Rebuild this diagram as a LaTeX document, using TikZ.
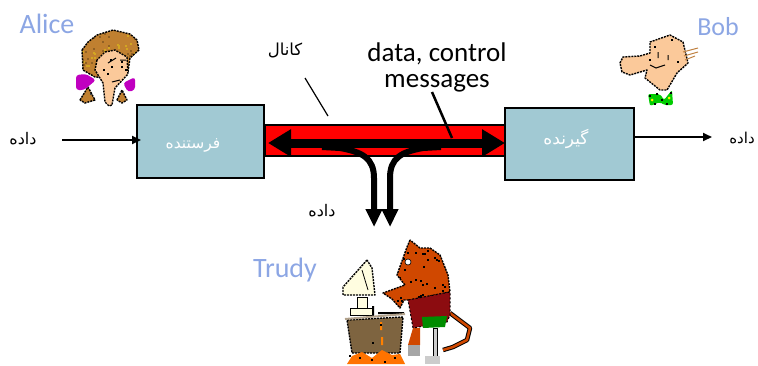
\documentclass[tikz,border=0pt]{standalone}
\usepackage{fontspec}
\usetikzlibrary{arrows.meta,calc}
\TeXXeTstate=1
\newfontfamily\fa[Script=Arabic]{DejaVu Sans}
\setmainfont{Carlito}
\definecolor{boxfill}{HTML}{A1C9D3}
\definecolor{namecol}{HTML}{8CA6E4}
\definecolor{peach}{HTML}{FBC99A}
\definecolor{hairbrown}{HTML}{C08030}
\definecolor{bowpurple}{HTML}{C000C0}
\definecolor{devil}{HTML}{D04800}
\definecolor{shirt}{HTML}{8C0C10}
\definecolor{deskbrown}{HTML}{7E6440}
\definecolor{cream}{HTML}{FFFDE0}
\tikzset{
  pc/.style={x=1pt,y=-1pt},
  endpoint/.style={draw=black,line width=2pt,fill=boxfill,minimum width=#1,inner sep=0pt},
  boxlabel/.style={text=white,inner sep=0pt,font=\fa\fontsize{#1}{#1}\selectfont},
  farsi/.style={text=black,inner sep=0pt,font=\fa\fontsize{#1}{#1}\selectfont},
  person/.style={text=namecol,inner sep=0pt,font=\fontsize{#1}{#1}\selectfont},
  msg/.style={text=black,inner sep=0pt,align=center,font=\fontsize{27}{26}\selectfont},
  feed/.style={line width=2pt,-{Triangle[length=9pt,width=8pt]}},
  tapline/.style={line width=6pt,-{Triangle[length=18pt,width=16pt]}},
  speck/.style={draw=black,dash pattern=on 2pt off 1pt,line width=1.4pt,line join=round},
}
% random little squares, kept inside the current clip
\newcommand{\mottle}[6]{\foreach \k in {1,...,#2}{%
  \pgfmathsetmacro{\rx}{#3+rnd*(#4-#3)}\pgfmathsetmacro{\ry}{#5+rnd*(#6-#5)}%
  \fill[#1] (\rx-1,\ry-1) rectangle (\rx+1,\ry+1);}}
\newcommand{\specks}[1]{\foreach \px/\py in {#1}{\fill[black] (\px-1,\py-1) rectangle (\px+1,\py+1);}}
\begin{document}
\begin{tikzpicture}[pc]
\pgfmathsetseed{1234}
\useasboundingbox (0,0) rectangle (758,365);
% channel
\node[draw=black,line width=2pt,fill=red,minimum width=241pt,minimum height=31pt,inner sep=0pt] (chan) at (385,140) {};
% end boxes
\node[endpoint=127pt,minimum height=73pt] (send) at (200.5,141.5) {};
\node[endpoint=129pt,minimum height=72pt] (recv) at (569.5,144) {};
\node[boxlabel=15.5] (sendt) at (193,145) {\beginR فرستنده\endR};
\node[boxlabel=17] (recvt) at (566,139) {\beginR گیرنده\endR};
% labels
\node[person=28] (alice) at (47,24) {Alice};
\node[person=26] (bob) at (718,27) {Bob};
\node[person=28] (trudy) at (285,270) {Trudy};
\node[farsi=16] (din) at (23,139) {\beginR داده\endR};
\node[farsi=15] (dout) at (742,138) {\beginR داده\endR};
\node[farsi=16] (dtap) at (322,211) {\beginR داده\endR};
\node[farsi=16.5] (kanal) at (285,50) {\beginR کانال\endR};
\node[msg] (msgs) at (437,67) {data, control\\messages};
% coordinates
\coordinate (inS) at (62,140);
\coordinate (inE) at (send.west |- inS);
\coordinate (outS) at (recv.east |- 0,137);
\coordinate (outE) at (712,137);
\coordinate (arL) at (268,143);
\coordinate (arR) at (505,143);
\coordinate (tapLs) at (322,147);
\coordinate (tapRs) at (441,147);
\coordinate (tipL) at (374,227);
\coordinate (tipR) at (390,227);
\coordinate (kanA) at (305,78);
\coordinate (kanB) at (328,116);
\coordinate (msgA) at (432,92);
\coordinate (msgB) at (452,138);
% connectors
\draw[feed] (inS) -- ($(inE)+(5,0)$);
\draw[feed] (outS) -- (outE);
\draw[line width=1.2pt] (kanA) -- (kanB);
\draw[line width=2.5pt] (msgA) -- (msgB);
\draw[line width=9pt,{Triangle[length=23pt,width=26pt]}-{Triangle[length=23pt,width=26pt]}] (arL) -- (arR);
\draw[tapline] (tapLs) -- (340,148) .. controls (362,152) and (374,158) .. (374,178) -- (tipL);
\draw[tapline] (tapRs) -- (423,148) .. controls (401,152) and (390,158) .. (390,178) -- (tipR);
% Alice
\foreach \shp in {0,1}{
 \begin{scope}
 \ifnum\shp=0 \clip (80,100)--(88,87)--(95,100)--(85,103)--cycle;\else \clip (117,100)--(122,90)--(127,100)--(122,103)--cycle;\fi
 \fill[hairbrown] (76,85) rectangle (130,105);
 \mottle{black!70}{14}{76}{130}{85}{105}
 \end{scope}}
\draw[speck] (80,100)--(88,87)--(95,100)--(85,103)--cycle;
\draw[speck] (117,100)--(122,90)--(127,100)--(122,103)--cycle;
\begin{scope}
\clip (82,50)--(88,42)--(97,35)--(113,30)--(130,34)--(137,40)--(139,50)--(130,58)--(128,72)--(112,78)--(95,77)--(83,70)--cycle;
\fill[hairbrown] (80,28) rectangle (140,80);
\mottle{hairbrown!70!yellow}{50}{80}{140}{28}{80}
\mottle{hairbrown!75!black}{40}{80}{140}{28}{80}
\end{scope}
\draw[speck] (82,50)--(88,42)--(97,35)--(113,30)--(130,34)--(137,40)--(139,50)--(130,58)--(128,72)--(112,78)--(95,77)--(83,70)--cycle;
\fill[peach,speck] (97,60)--(95,70)--(103,83)--(105,102)--(109,106)--(112,105)--(115,88)--(128,74)--(127,57)--(115,50)--(105,52)--cycle;
\fill[bowpurple,rounded corners=3pt] (76,75)--(86,74)--(96,80)--(84,90)--(76,90)--cycle;
\fill[bowpurple,rounded corners=3pt] (123,83)--(135,77)--(135,90)--(128,92)--cycle;
\draw[line width=1pt] (108,63)--(116,58) (120,60)--(126,60) (112,82)--(120,80);
\specks{104/70,108/74,112/67,122/67,126/70,111/60,122/62}
% Bob
\fill[peach,speck] (620,63)--(623,57)--(640,56)--(650,53)--(650,42)--(670,35)--(683,42)--(688,63)--(677,73)--(667,90)--(660,90)--(645,78)--(647,70)--(630,75)--(622,72)--cycle;
\fill[green!80!black,rounded corners=2pt] (648,94)--(660,94)--(664,100)--(672,90)--(673,105)--(664,105)--(660,102)--(650,106)--cycle;
\specks{650/96,655/104,662/100,671/93,667/104,657/94}
\fill[yellow] (652,100) circle (1.5) (669,98) circle (1.5);
\draw[brown,line width=1pt] (683,52)--(698,48) (684,56)--(698,52) (685,60)--(695,56);
\draw[line width=1pt] (650,65)--(656,68)--(665,65) (658,52)--(658,58) (668,55)--(668,60);
\specks{655/47,672/40,678/62,650/60}
% Trudy: computer
\fill[cream,speck] (367,260)--(343,287)--(343,295)--(375,295)--(372,268)--cycle;
\draw[line width=.8pt] (362,270)--(368,290);
\fill[cream,draw=black,line width=.6pt] (357,297) rectangle (367,308);
\fill[cream,draw=black,line width=.6pt] (350,308) rectangle (372,315);
\fill[black] (372,306) rectangle (374,316) (378,312) rectangle (404,314);
\fill[deskbrown,speck] (347,320)--(403,317)--(400,353)--(352,353)--cycle;
\draw[line width=2pt,color=deskbrown!60!white] (345,319)--(405,314);
\fill[orange!90!red] (347,364)--(352,356)--(362,352)--(372,358)--(382,350)--(392,355)--(400,354)--(405,364)--cycle;
\fill[orange] (381,337) rectangle (383,345) (380,322) rectangle (382,330);
\specks{373/343,381/325,350/356,360/358,395/358,372/360,385/362}
% Trudy: devil
\draw[black,line width=4.5pt,line join=round] (450,313)--(470,328)--(467,340)--(453,347)--(443,350);
\draw[devil,line width=2.5pt,line join=round] (450,313)--(470,328)--(467,340)--(453,347)--(443,350);
\fill[devil] (413,328)--(420,328)--(420,345)--(408,345)--cycle;
\fill[gray!70] (408,345) rectangle (420,356);
\fill[gray!40,draw=black,line width=1pt] (433,328) rectangle (437,358);
\fill[gray!40] (425,356) rectangle (440,364);
\begin{scope}
\clip (410,240)--(407,247)--(397,275)--(405,285)--(383,293)--(392,299)--(400,308)--(404,300)--(410,300)--(450,292)--(448,275)--(440,255)--(430,248)--(420,248)--cycle;
\fill[devil] (380,238) rectangle (452,310);
\mottle{black}{55}{380}{452}{238}{310}
\end{scope}
\draw[speck] (410,240)--(407,247)--(397,275)--(405,285)--(383,293)--(392,299)--(400,308)--(404,300)--(410,300)--(450,292)--(448,275)--(440,255)--(430,248)--(420,248)--cycle;
\fill[shirt,draw=black,dash pattern=on 2pt off 2pt,line width=1pt] (408,300)--(450,292)--(450,315)--(447,322)--(413,328)--cycle;
\fill[green!55!black] (422,317)--(447,316)--(445,327)--(423,328)--cycle;
\fill[white,draw=black,line width=.6pt] (408,262) circle (3);
\end{tikzpicture}
\end{document}
